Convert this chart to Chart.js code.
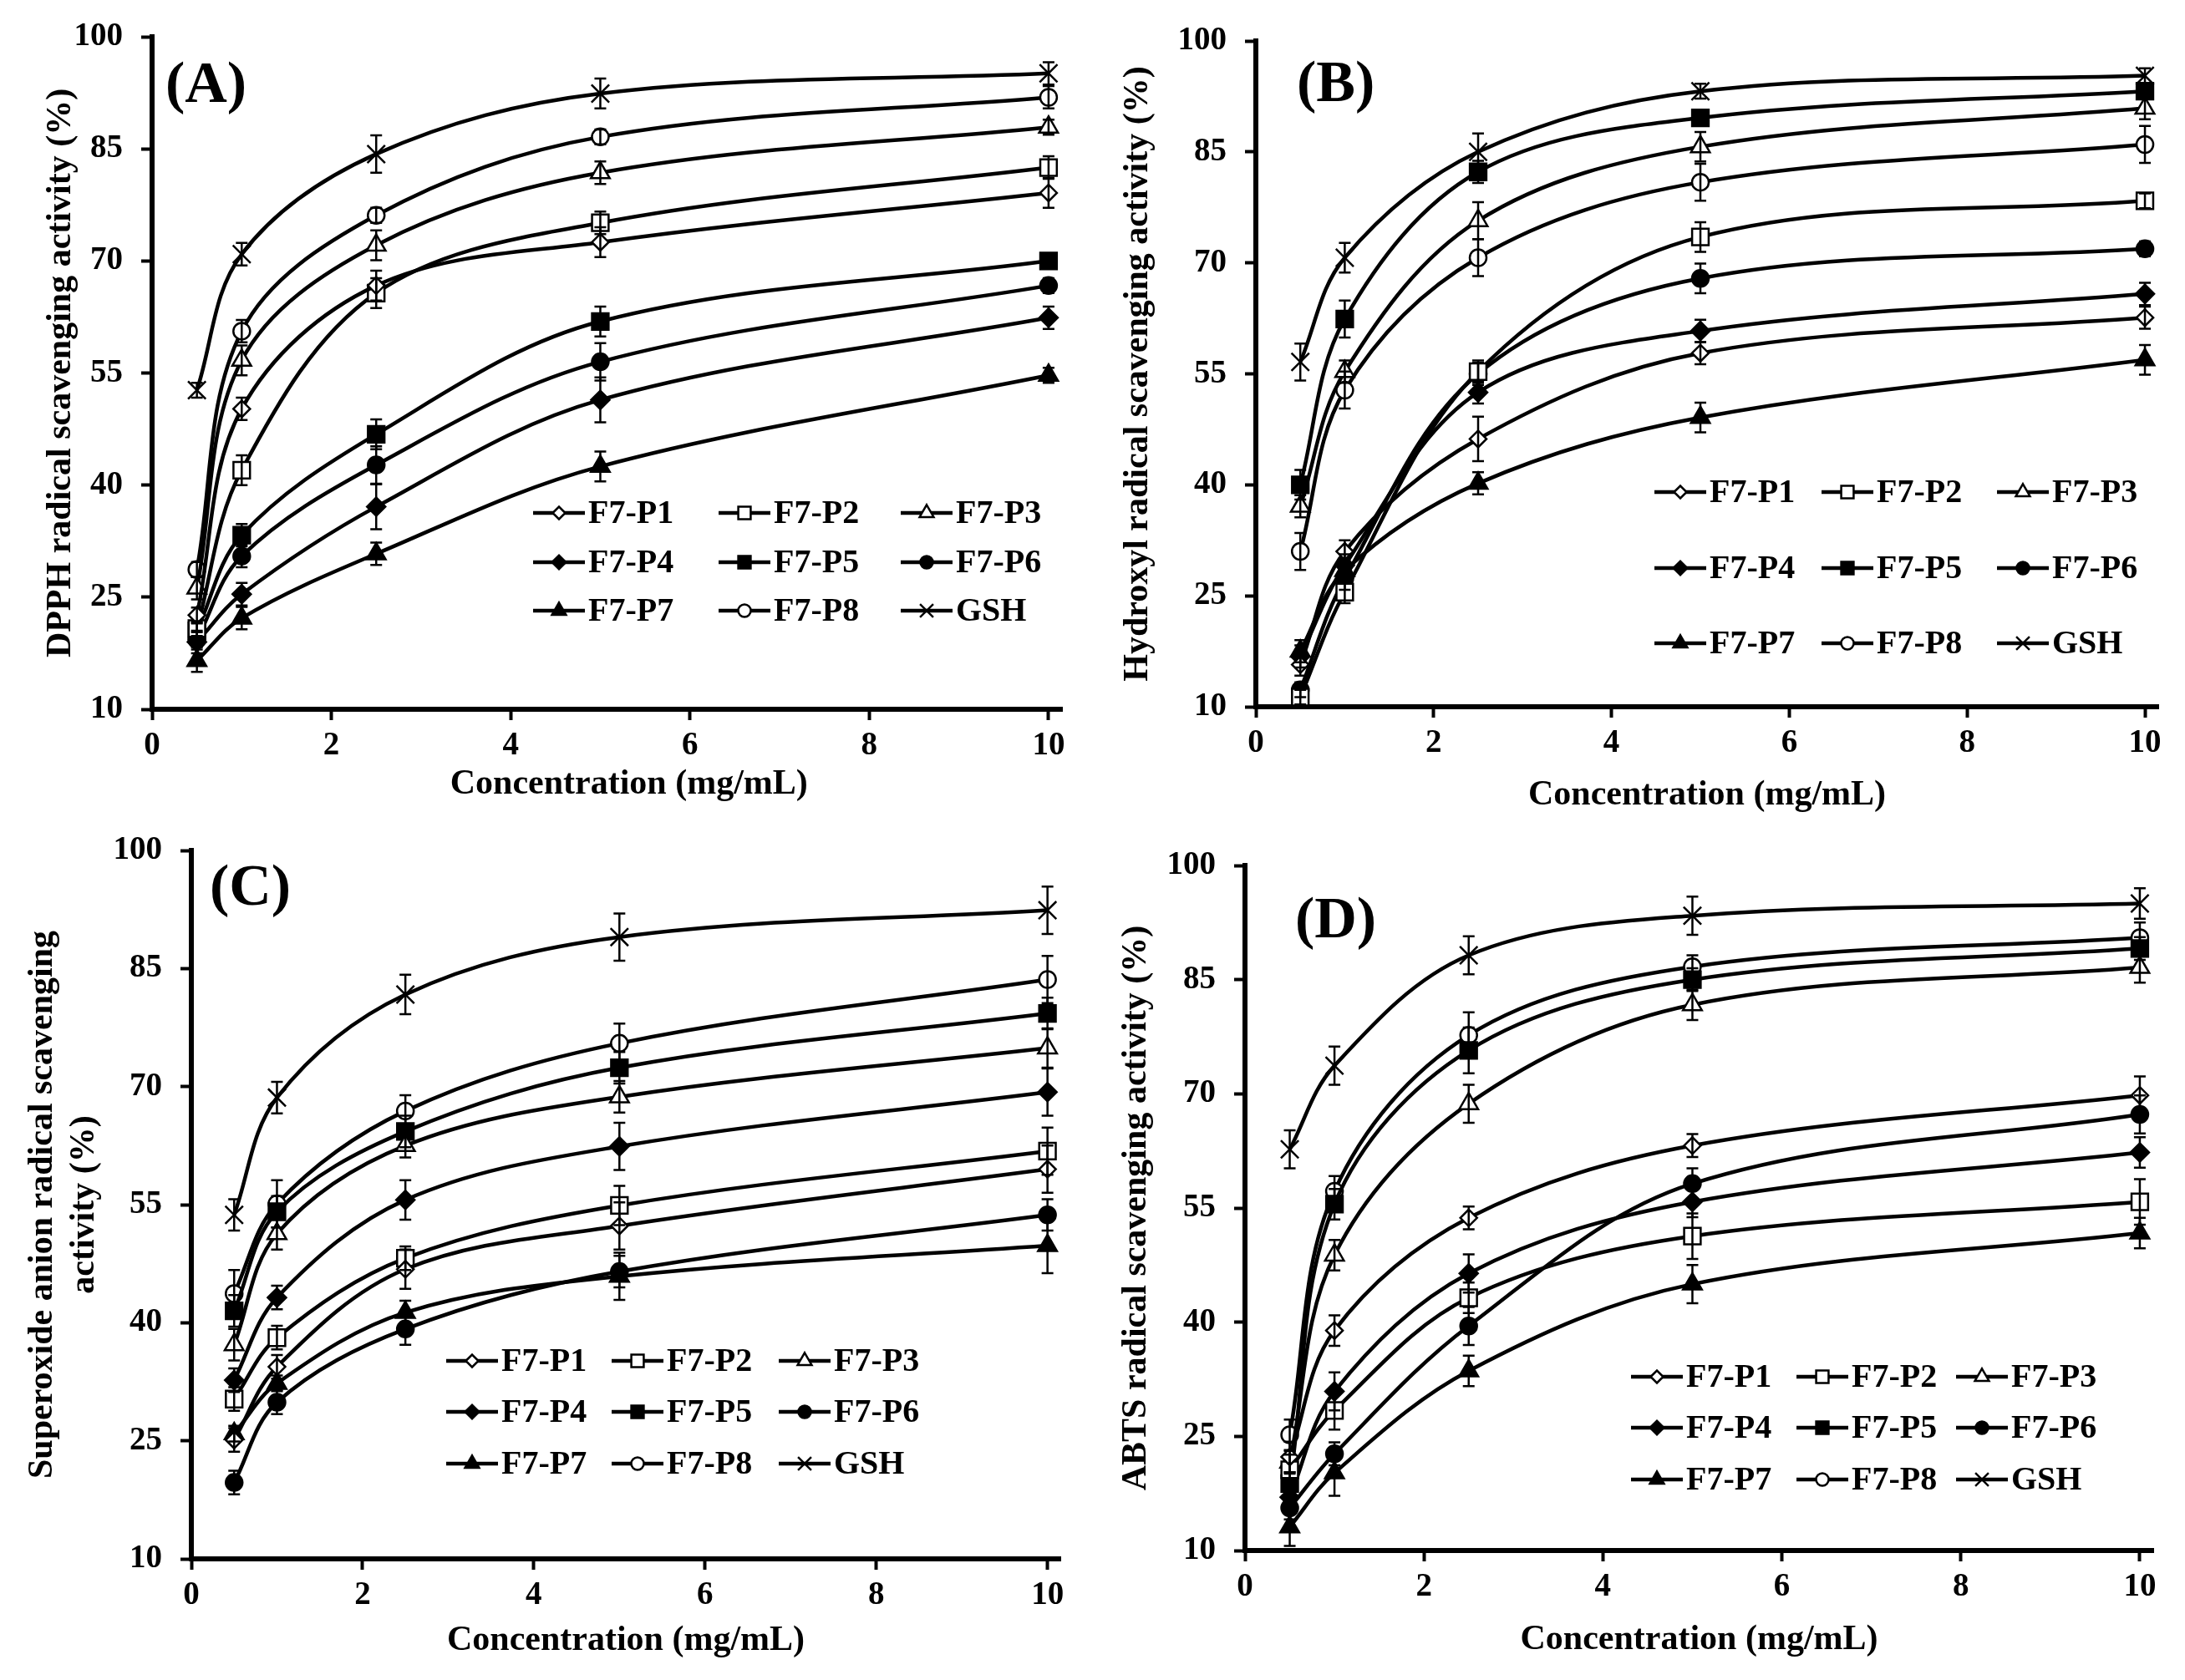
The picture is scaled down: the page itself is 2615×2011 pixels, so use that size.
<!DOCTYPE html>
<html>
<head>
<meta charset="utf-8">
<script src="https://cdn.jsdelivr.net/npm/chart.js@4.4.1/dist/chart.umd.min.js"></script>
<style>
    html, body { margin: 0; padding: 0; background: #fff; }
    body { width: 2615px; height: 2011px; position: relative; overflow: hidden; }
    canvas { position: absolute; }
</style>
</head>
<body>
<canvas id="chart-a"></canvas>
<canvas id="chart-b"></canvas>
<canvas id="chart-c"></canvas>
<canvas id="chart-d"></canvas>
<script>
const concentrations = [0.5, 1, 2.5, 5, 10];
const seriesNames = ['F7-P1', 'F7-P2', 'F7-P3', 'F7-P4', 'F7-P5', 'F7-P6', 'F7-P7', 'F7-P8', 'GSH'];
const xTicks = [0, 2, 4, 6, 8, 10];
const yTicks = [10, 25, 40, 55, 70, 85, 100];

// (A) DPPH, rows follow seriesNames
const dpphValues = [
    [22.6, 50.2, 66.7, 72.5, 79.1],
    [20.8, 42.0, 65.7, 75.1, 82.5],
    [26.2, 56.7, 72.1, 81.8, 87.9],
    [19.0, 25.4, 37.1, 51.4, 62.4],
    [20.5, 33.3, 46.8, 61.9, 70.0],
    [19.3, 30.5, 42.7, 56.5, 66.7],
    [16.5, 22.2, 30.8, 42.5, 54.7],
    [28.7, 60.6, 76.1, 86.6, 91.9],
    [52.7, 70.9, 84.3, 92.4, 95.1]
];
const dpphErrors = [
    [1, 1.5, 2, 2, 2],
    [1, 2, 2, 1.5, 1.5],
    [1.5, 2, 2, 1.5, 1],
    [1.5, 1.5, 3, 3, 1.5],
    [1, 1.5, 2, 2, 1],
    [1, 1.5, 2.5, 2.5, 1],
    [1.5, 1.5, 1.5, 2, 1],
    [1, 1.5, 1, 1, 1.5],
    [1, 1.5, 2.5, 2, 1.5]
];

// (B) Hydroxyl
const hydroxylValues = [
    [15.7, 31.0, 46.2, 57.8, 62.6],
    [11.3, 25.5, 55.3, 73.5, 78.4],
    [37.1, 55.3, 75.7, 85.7, 90.9],
    [16.8, 29.1, 52.5, 60.8, 65.8],
    [40.0, 62.4, 82.3, 89.6, 93.2],
    [12.3, 27.3, 55.0, 67.9, 71.9],
    [17.5, 28.4, 40.2, 49.1, 56.9],
    [31.0, 52.8, 70.7, 80.9, 86.0],
    [56.6, 70.7, 85.0, 93.2, 95.3]
];
const hydroxylErrors = [
    [1.5, 1.5, 3, 1.5, 1.5],
    [1, 1.5, 1.5, 2, 1],
    [1.5, 1.5, 2.5, 2, 1.5],
    [1.5, 1.5, 1.5, 1.5, 1.5],
    [2, 2.5, 1.5, 1, 1],
    [1, 1.5, 1.5, 2, 1],
    [1.5, 1.5, 1.5, 2, 2],
    [2.5, 2.5, 2.5, 2.5, 2.5],
    [2.5, 2, 2.5, 1, 1]
];

// (C) Superoxide anion
const superoxideValues = [
    [25.1, 34.4, 46.8, 52.3, 59.5],
    [30.3, 38.1, 48.2, 54.9, 61.8],
    [37.2, 51.3, 62.5, 68.7, 74.9],
    [32.7, 43.2, 55.6, 62.4, 69.3],
    [41.5, 54.1, 64.3, 72.4, 79.3],
    [19.7, 29.9, 39.2, 46.5, 53.7],
    [25.9, 32.3, 41.3, 45.9, 49.8],
    [43.7, 55.1, 66.9, 75.5, 83.6],
    [53.7, 68.6, 81.7, 89.0, 92.4]
];
const superoxideErrors = [
    [1.5, 1.5, 2.5, 3, 3],
    [1.5, 1.5, 1.5, 2.5, 3],
    [2, 2, 1.5, 2, 2.5],
    [1.5, 1.5, 2.5, 3, 3],
    [2, 2, 2, 2, 2],
    [1.5, 1.5, 2, 2, 2],
    [1, 1, 1.5, 3, 3.5],
    [3, 3, 2, 2.5, 3],
    [2, 2, 2.5, 3, 3]
];

// (D) ABTS
const abtsValues = [
    [22.3, 38.9, 53.7, 63.2, 69.8],
    [20.6, 28.4, 43.2, 51.3, 55.8],
    [21.6, 48.8, 68.7, 81.7, 86.6],
    [17.0, 30.9, 46.4, 55.8, 62.3],
    [18.8, 55.5, 75.7, 85.0, 89.1],
    [15.6, 22.7, 39.5, 58.2, 67.3],
    [13.1, 20.2, 33.6, 45.0, 51.7],
    [25.2, 57.2, 77.7, 86.7, 90.5],
    [62.7, 73.7, 88.2, 93.4, 95.0]
];
const abtsErrors = [
    [2, 2, 1.5, 1.5, 2.5],
    [2, 2.5, 2, 3, 3],
    [1.5, 2, 2.5, 2, 2],
    [1.5, 2.5, 2.5, 2, 2],
    [1.5, 2, 3, 1.5, 1.5],
    [1.5, 1.5, 2.5, 2, 2.5],
    [2.5, 3, 2, 2.5, 2],
    [2, 2, 3, 1.5, 2],
    [2.5, 2.5, 2.5, 2.5, 2]
];

// marker look per series
const markers = [
    { style: 'rectRot', fill: '#fff', radius: 10 },
    { style: 'rect', fill: '#fff', radius: 14 },
    { style: 'triangle', fill: '#fff', radius: 13 },
    { style: 'rectRot', fill: '#000', radius: 11 },
    { style: 'rect', fill: '#000', radius: 14 },
    { style: 'circle', fill: '#000', radius: 10 },
    { style: 'triangle', fill: '#000', radius: 13 },
    { style: 'circle', fill: '#fff', radius: 10 },
    { style: 'crossRot', fill: '#000', radius: 15 }
];

const FONT = '"Liberation Serif", "Times New Roman", serif';
const TITLE_SIZE = 42;
const TITLE_LH = TITLE_SIZE * 1.2;

// error bars drawn through the y scale
const errorBars = {
    id: 'errorBars',
    afterDatasetsDraw(chart) {
        const ctx = chart.ctx;
        const yScale = chart.scales.y;
        ctx.save();
        ctx.strokeStyle = '#000';
        ctx.lineWidth = 2.5;
        chart.data.datasets.forEach((ds, i) => {
            const meta = chart.getDatasetMeta(i);
            meta.data.forEach((pt, j) => {
                const v = ds.data[j].y;
                const e = ds.errors[j];
                const yTop = yScale.getPixelForValue(v + e);
                const yBot = yScale.getPixelForValue(v - e);
                ctx.beginPath();
                ctx.moveTo(pt.x, yTop);
                ctx.lineTo(pt.x, yBot);
                ctx.moveTo(pt.x - 7, yTop);
                ctx.lineTo(pt.x + 7, yTop);
                ctx.moveTo(pt.x - 7, yBot);
                ctx.lineTo(pt.x + 7, yBot);
                ctx.stroke();
            });
        });
        ctx.restore();
    }
};

// panel letter and in-plot legend
const panelDecor = {
    id: 'panelDecor',
    afterDraw(chart, args, opts) {
        const ctx = chart.ctx;
        ctx.save();
        ctx.fillStyle = '#000';
        ctx.textAlign = 'left';
        ctx.textBaseline = 'middle';
        ctx.font = 'bold 70px ' + FONT;
        ctx.fillText(opts.label, opts.labelX, opts.labelY);

        ctx.font = 'bold 40px ' + FONT;
        chart.data.datasets.forEach((ds, i) => {
            const x = opts.cols[i % 3];
            const y = opts.rows[Math.floor(i / 3)];
            ctx.strokeStyle = '#000';
            ctx.lineWidth = 4.5;
            ctx.beginPath();
            ctx.moveTo(x, y);
            ctx.lineTo(x + 62, y);
            ctx.stroke();
            ctx.fillStyle = ds.pointBackgroundColor;
            ctx.lineWidth = 2.5;
            Chart.helpers.drawPoint(ctx, {
                pointStyle: ds.pointStyle,
                radius: ds.pointRadius * 0.75,
                rotation: 0,
                borderWidth: 2.5
            }, x + 31, y);
            ctx.fillStyle = '#000';
            ctx.fillText(ds.label, x + 66, y + 2);
        });
        ctx.restore();
    }
};

function buildDatasets(values, errors) {
    return seriesNames.map((name, i) => ({
        label: name,
        data: concentrations.map((c, j) => ({ x: c, y: values[i][j] })),
        errors: errors[i],
        borderColor: '#000',
        borderWidth: 4.5,
        tension: 0.35,
        fill: false,
        pointStyle: markers[i].style,
        pointRadius: markers[i].radius,
        pointBackgroundColor: markers[i].fill,
        pointBorderColor: '#000',
        pointBorderWidth: 2.5
    }));
}

// p: canvas box and plot area in page pixels
function makePanel(id, p, values, errors) {
    const canvas = document.getElementById(id);
    canvas.width = p.w;
    canvas.height = p.h;
    canvas.style.left = p.left + 'px';
    canvas.style.top = p.top + 'px';

    const padLeft = p.yTitleX - TITLE_LH / 2 - p.left;
    const yWidth = p.areaLeft - p.left - padLeft;
    const xBottom = p.xTitleY + TITLE_LH / 2;
    const padBottom = p.top + p.h - xBottom;
    const xHeight = xBottom - p.areaBottom;

    return new Chart(canvas, {
        type: 'line',
        data: { datasets: buildDatasets(values, errors) },
        plugins: [errorBars, panelDecor],
        options: {
            responsive: false,
            animation: false,
            devicePixelRatio: 1,
            layout: {
                padding: {
                    left: padLeft,
                    top: p.areaTop - p.top,
                    right: p.left + p.w - p.areaRight,
                    bottom: padBottom
                }
            },
            plugins: {
                legend: { display: false },
                tooltip: { enabled: false },
                panelDecor: {
                    label: p.label,
                    labelX: p.labelX - p.left,
                    labelY: p.labelY - p.top,
                    cols: p.legendCols.map(v => v - p.left),
                    rows: p.legendRows.map(v => v - p.top)
                }
            },
            scales: {
                x: {
                    type: 'linear',
                    min: 0,
                    max: 10.15,
                    afterBuildTicks: axis => { axis.ticks = xTicks.map(v => ({ value: v })); },
                    afterFit: axis => {
                        axis.height = xHeight;
                        axis.paddingLeft = 0;
                        axis.paddingRight = 0;
                    },
                    grid: { drawOnChartArea: false, drawTicks: true, tickLength: 13, tickWidth: 4, tickColor: '#000' },
                    border: { display: true, color: '#000', width: 6 },
                    ticks: { color: '#000', padding: 8, maxRotation: 0, font: { family: FONT, size: 39, weight: 'bold' } },
                    title: {
                        display: true,
                        text: p.xTitle,
                        color: '#000',
                        padding: 0,
                        font: { family: FONT, size: TITLE_SIZE, weight: 'bold', lineHeight: 1.2 }
                    }
                },
                y: {
                    min: 10,
                    max: 100,
                    afterBuildTicks: axis => { axis.ticks = yTicks.map(v => ({ value: v })); },
                    afterFit: axis => {
                        axis.width = yWidth;
                        axis.paddingTop = 0;
                        axis.paddingBottom = 0;
                    },
                    grid: { drawOnChartArea: false, drawTicks: true, tickLength: 13, tickWidth: 4, tickColor: '#000' },
                    border: { display: true, color: '#000', width: 6 },
                    ticks: { color: '#000', padding: 22, font: { family: FONT, size: 39, weight: 'bold' } },
                    title: {
                        display: true,
                        text: p.yTitle,
                        color: '#000',
                        padding: 0,
                        font: { family: FONT, size: TITLE_SIZE, weight: 'bold', lineHeight: 1.2 }
                    }
                }
            }
        }
    });
}

makePanel('chart-a', {
    left: 0, top: 0, w: 1307, h: 1000,
    areaLeft: 182, areaRight: 1271, areaTop: 44, areaBottom: 849,
    yTitleX: 73, xTitleY: 939,
    xTitle: '     Concentration (mg/mL)',
    yTitle: 'DPPH radical scavenging activity (%)',
    label: '(A)', labelX: 198, labelY: 104,
    legendCols: [638, 860, 1078], legendRows: [614, 673, 731]
}, dpphValues, dpphErrors);

makePanel('chart-b', {
    left: 1307, top: 0, w: 1308, h: 1000,
    areaLeft: 1503, areaRight: 2583, areaTop: 49, areaBottom: 846,
    yTitleX: 1362, xTitleY: 952,
    xTitle: 'Concentration (mg/mL)',
    yTitle: 'Hydroxyl radical scavenging activity (%)',
    label: '(B)', labelX: 1552, labelY: 103,
    legendCols: [1980, 2180, 2390], legendRows: [589, 680, 770]
}, hydroxylValues, hydroxylErrors);

makePanel('chart-c', {
    left: 0, top: 1000, w: 1307, h: 1011,
    areaLeft: 229, areaRight: 1269, areaTop: 1018, areaBottom: 1866,
    yTitleX: 51, xTitleY: 1964,
    xTitle: 'Concentration (mg/mL)',
    yTitle: ['Superoxide anion radical scavenging', 'activity (%)'],
    label: '(C)', labelX: 251, labelY: 1065,
    legendCols: [534, 732, 932], legendRows: [1629, 1690, 1752]
}, superoxideValues, superoxideErrors);

makePanel('chart-d', {
    left: 1307, top: 1000, w: 1308, h: 1011,
    areaLeft: 1490, areaRight: 2577, areaTop: 1036, areaBottom: 1856,
    yTitleX: 1360, xTitleY: 1963,
    xTitle: 'Concentration (mg/mL)',
    yTitle: 'ABTS radical scavenging activity (%)',
    label: '(D)', labelX: 1550, labelY: 1104,
    legendCols: [1952, 2150, 2341], legendRows: [1648, 1709, 1771]
}, abtsValues, abtsErrors);
</script>
</body>
</html>
